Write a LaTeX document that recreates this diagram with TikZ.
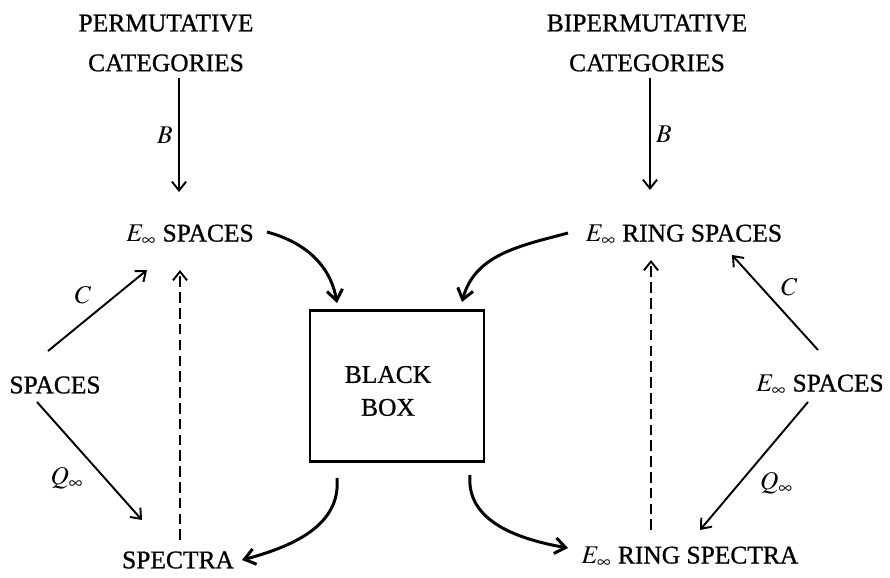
\documentclass[tikz,border=0pt]{standalone}
\usepackage{mathptmx}
\usepackage[no-math]{fontspec}
\setmainfont{Liberation Serif}[FakeBold=0.8]
\usetikzlibrary{arrows.meta}
\tikzset{
obj/.style={font=\fontsize{14.5}{22.7}\selectfont, align=center, inner sep=2pt},
lbl/.style={font=\fontsize{14.5}{17}\selectfont, inner sep=3pt},
map/.style={-{Straight Barb[length=5pt,width=8pt]}, line width=1.1pt},
bent/.style={-{Straight Barb[length=6pt,width=9pt]}, line width=1.7pt},
dashmap/.style={map, dash pattern=on 6pt off 3pt},
blackbox/.style={draw, line width=1.2pt, minimum width=3.48cm, minimum height=3.02cm}
}

\begin{document}
\begin{tikzpicture}[x=0.02cm, y=-0.02cm]
\useasboundingbox (0,0) rectangle (890,578);
% objects
\node[obj] (perm)   at (166,43)  {PERMUTATIVE\\CATEGORIES};
\node[obj] (biperm) at (647,43)  {BIPERMUTATIVE\\CATEGORIES};
\node[obj] (esp)    at (190,235) {$E_\infty$ SPACES};
\node[obj] (ers)    at (684,235) {$E_\infty$ RING SPACES};
\node[obj] (spaces) at (55,385)  {SPACES};
\node[obj] (esp2)   at (820,385) {$E_\infty$ SPACES};
\node[obj] (spec)   at (178,560) {SPECTRA};
\node[obj] (ersp)   at (690,557) {$E_\infty$ RING SPECTRA};
\node[blackbox] (box) at (397,386) {};
\node[obj, font=\fontsize{14.5}{18.7}\selectfont] (boxtext) at (388,391) {BLACK\\BOX};

% the maps
\draw[map] ([shift={(13,35)}]perm.center) -- ([shift={(-11,-43)}]esp.center)
  node[lbl, midway, left] {$B$};
\draw[map] ([shift={(3,35)}]biperm.center) -- ([shift={(-34,-45)}]ers.center)
  node[lbl, midway, right] {$B$};
\draw[map] ([shift={(-7,-34)}]spaces.center) -- ([shift={(-43,35)}]esp.center)
  node[lbl, midway, above left] {$C$};
\draw[map] ([shift={(-18,17)}]spaces.center) -- ([shift={(-36,-40)}]spec.center)
  node[lbl, midway, below left] {$Q_\infty$};
\draw[map] ([shift={(-2,-35)}]esp2.center) -- ([shift={(48,20)}]ers.center)
  node[lbl, midway, above right] {$C$};
\draw[map] ([shift={(-12,17)}]esp2.center) -- ([shift={(10,-27)}]ersp.center)
  node[lbl, midway, below right] {$Q_\infty$};
\draw[dashmap] ([shift={(2,-20)}]spec.center) -- ([shift={(-10,35)}]esp.center);
\draw[dashmap] ([shift={(-39,-27)}]ersp.center) -- ([shift={(-33,25)}]ers.center);

% into and out of the box
\draw[bent] ([shift={(77,-3)}]esp.center) to[out=-15, in=100] ([shift={(-60,-83)}]box.center);
\draw[bent] ([shift={(-116,-2)}]ers.center) to[out=195, in=75] ([shift={(65,-84)}]box.center);
\draw[bent] ([shift={(-60,92)}]box.center) to[out=-85, in=15] ([shift={(64,0)}]spec.center);
\draw[bent] ([shift={(73,89)}]box.center) to[out=-95, in=170] ([shift={(-122,-9)}]ersp.center);
\end{tikzpicture}
\end{document}
